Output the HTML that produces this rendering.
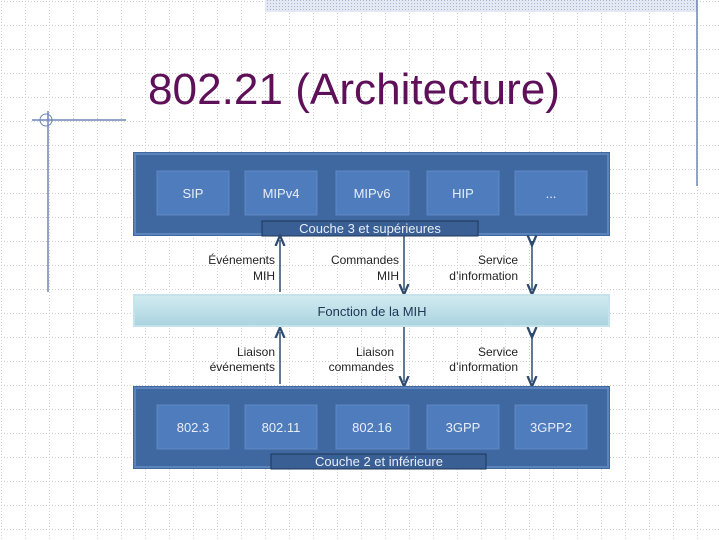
<!DOCTYPE html>
<html><head><meta charset="utf-8"><style>
html,body{margin:0;padding:0;background:#fff;}
body{width:720px;height:540px;overflow:hidden;position:relative;font-family:"Liberation Sans",sans-serif;}
</style></head><body>
<svg width="720" height="540" viewBox="0 0 720 540" xmlns="http://www.w3.org/2000/svg" style="position:absolute;left:0;top:0">
<defs>
<pattern id="g" x="1" y="1" width="24" height="24" patternUnits="userSpaceOnUse">
<path d="M0 0.5H24M0.5 0V24" stroke="#cfcfcf" stroke-width="1" stroke-dasharray="1,2" fill="none"/>
</pattern>
<pattern id="h" width="3" height="3" patternUnits="userSpaceOnUse">
<rect width="3" height="3" fill="#e4e8f2"/><rect width="1" height="1" fill="#a9b6d4"/>
</pattern>
<linearGradient id="mb" x1="0" y1="0" x2="0" y2="1"><stop offset="0" stop-color="#d3ecf1"/><stop offset="1" stop-color="#a9d3df"/></linearGradient>
<marker id="a" markerWidth="8" markerHeight="8" refX="4" refY="4" orient="auto"><path d="M0 1L7 4L0 7" fill="none" stroke="#2d4a6f" stroke-width="1.5"/></marker>
</defs>
<rect width="720" height="540" fill="url(#g)"/>
<rect x="265" y="0" width="432" height="12" fill="url(#h)"/>
<line x1="697" y1="0" x2="697" y2="186" stroke="#6f85b5" stroke-width="1.5"/>
<line x1="32" y1="120" x2="126" y2="120" stroke="#6f85b5" stroke-width="1.5"/>
<line x1="48" y1="111" x2="48" y2="292" stroke="#6f85b5" stroke-width="1.5"/>
<circle cx="46" cy="120" r="6" fill="none" stroke="#6f85b5" stroke-width="1"/>
<text x="148" y="104" font-size="44" fill="#5e1059" textLength="412" lengthAdjust="spacingAndGlyphs">802.21 (Architecture)</text>

<!-- top panel -->
<rect x="133" y="152" width="477" height="84" fill="#3f67a0"/>
<rect x="135" y="154" width="473" height="80" fill="none" stroke="#5c83ba" stroke-width="2"/>
<g fill="#4f7cbc" stroke="#5f8ac6">
<rect x="157" y="171" width="72" height="44"/><rect x="245" y="171" width="72" height="44"/>
<rect x="336" y="171" width="73" height="44"/><rect x="427" y="171" width="72" height="44"/>
<rect x="515" y="171" width="72" height="44"/></g>
<g fill="#e8eef8" font-size="13" text-anchor="middle">
<text x="193" y="198">SIP</text><text x="281" y="198">MIPv4</text><text x="372" y="198">MIPv6</text><text x="463" y="198">HIP</text><text x="551" y="198">...</text></g>
<rect x="262" y="221" width="216" height="15" fill="#3a5f95" stroke="#1f3556"/>
<text x="370" y="233" font-size="13" fill="#e8eef8" text-anchor="middle">Couche 3 et supérieures</text>

<!-- arrows upper -->
<g stroke="#2d4a6f" stroke-width="1.5">
<line x1="280" y1="292" x2="280" y2="240" marker-end="url(#a)"/>
<line x1="404" y1="236" x2="404" y2="290" marker-end="url(#a)"/>
<line x1="532" y1="241" x2="532" y2="290" marker-end="url(#a)" marker-start="url(#a)"/>
<line x1="280" y1="384" x2="280" y2="332" marker-end="url(#a)"/>
<line x1="404" y1="327" x2="404" y2="382" marker-end="url(#a)"/>
<line x1="532" y1="333" x2="532" y2="382" marker-end="url(#a)" marker-start="url(#a)"/>
</g>
<g font-size="12" fill="#222" text-anchor="end">
<text x="275" y="264">Événements</text><text x="275" y="280">MIH</text>
<text x="399" y="264">Commandes</text><text x="399" y="280">MIH</text>
<text x="518" y="264">Service</text><text x="518" y="280">d’information</text>
<text x="275" y="356">Liaison</text><text x="275" y="371">événements</text>
<text x="394" y="356">Liaison</text><text x="394" y="371">commandes</text>
<text x="518" y="356">Service</text><text x="518" y="371">d’information</text>
</g>

<!-- MIH -->
<rect x="133" y="294" width="477" height="33" fill="url(#mb)"/>
<rect x="134" y="295" width="475" height="31" fill="none" stroke="#c4e3ea" stroke-width="2"/>
<text x="372" y="316" font-size="13" fill="#1f3556" text-anchor="middle">Fonction de la MIH</text>

<!-- bottom panel -->
<rect x="133" y="386" width="477" height="83" fill="#3f67a0"/>
<rect x="135" y="388" width="473" height="79" fill="none" stroke="#5c83ba" stroke-width="2"/>
<g fill="#4f7cbc" stroke="#5f8ac6">
<rect x="157" y="405" width="72" height="44"/><rect x="245" y="405" width="72" height="44"/>
<rect x="336" y="405" width="73" height="44"/><rect x="427" y="405" width="72" height="44"/>
<rect x="515" y="405" width="72" height="44"/></g>
<g fill="#e8eef8" font-size="13" text-anchor="middle">
<text x="193" y="432">802.3</text><text x="281" y="432">802.11</text><text x="372" y="432">802.16</text><text x="463" y="432">3GPP</text><text x="551" y="432">3GPP2</text></g>
<rect x="271" y="454" width="215" height="15" fill="#3a5f95" stroke="#1f3556"/>
<text x="379" y="466" font-size="13" fill="#e8eef8" text-anchor="middle">Couche 2 et inférieure</text>
</svg>
</body></html>
